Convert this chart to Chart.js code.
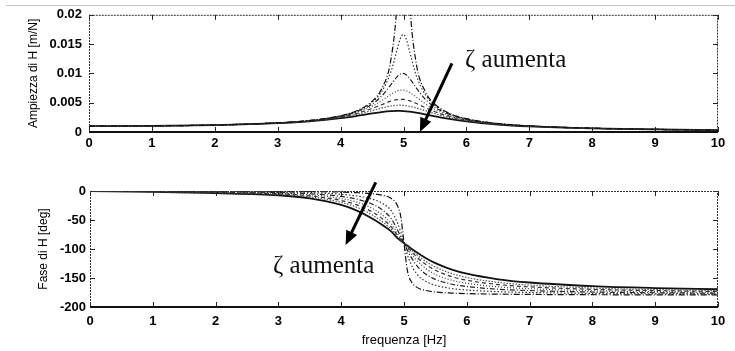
<!DOCTYPE html>
<html>
<head>
<meta charset="utf-8">
<script src="https://cdn.jsdelivr.net/npm/chart.js@4.4.1/dist/chart.umd.min.js"></script>
<style>
  body { margin: 0; background: #fff; }
  #wrap { position: relative; width: 735px; height: 351px; overflow: hidden; background: #fff; }
  canvas { position: absolute; left: 0; }
  .note { position: absolute; font-family: "Liberation Serif", serif; font-size: 25px; line-height: 25px; color: #111; white-space: nowrap; }
  #edge { position: absolute; left: 6px; right: 0; top: 5px; border-top: 1px solid #c4c4c4; }
</style>
</head>
<body>
<div id="wrap">
  <div id="edge"></div>
  <canvas id="ampChart" width="735" height="150" style="top:0"></canvas>
  <canvas id="phaseChart" width="735" height="201" style="top:150px"></canvas>
  <div class="note" style="left:465px; top:46px">ζ aumenta</div>
  <div class="note" style="left:273px; top:252px">ζ aumenta</div>
</div>
<script>
// frequency samples [Hz]
const freq = [0, 1, 2, 3, 3.5, 4, 4.25, 4.5, 4.65, 4.8, 4.9, 4.95, 5, 5.05, 5.1, 5.2, 5.35, 5.5, 5.75, 6, 6.5, 7, 8, 9, 10];
const zetaLabels = ["ζ = 0.01", "ζ = 0.03", "ζ = 0.05", "ζ = 0.07", "ζ = 0.09", "ζ = 0.11", "ζ = 0.14"];

// |H| [m/N]
const amp1 = [0.001, 0.001042, 0.00119, 0.001562, 0.00196, 0.002775, 0.003597, 0.00524, 0.007332, 0.01239, 0.02263, 0.0356, 0.05, 0.0351, 0.0221, 0.01187, 0.006826, 0.004736, 0.003093, 0.002269, 0.001448, 0.001041, 0.000641, 0.000446, 0.000333];
const amp2 = [0.001, 0.001042, 0.00119, 0.00156, 0.001954, 0.002753, 0.003545, 0.005063, 0.006842, 0.010279, 0.01411, 0.01596, 0.01667, 0.01566, 0.01364, 0.009734, 0.006309, 0.004543, 0.003032, 0.002243, 0.00144, 0.001038, 0.00064, 0.000446, 0.000333];
const amp3 = [0.001, 0.001041, 0.001189, 0.001556, 0.001943, 0.002712, 0.003446, 0.004757, 0.006097, 0.008068, 0.009461, 0.009903, 0.01, 0.009711, 0.009115, 0.007565, 0.005551, 0.004218, 0.002921, 0.002193, 0.001424, 0.001031, 0.000638, 0.000445, 0.000333];
const amp4 = [0.001, 0.001041, 0.001188, 0.001549, 0.001926, 0.002653, 0.003311, 0.004386, 0.00533, 0.006427, 0.007003, 0.007142, 0.007143, 0.007002, 0.006739, 0.005991, 0.004798, 0.00384, 0.002774, 0.002123, 0.001401, 0.001021, 0.000635, 0.000444, 0.000332];
const amp5 = [0.001, 0.00104, 0.001186, 0.001541, 0.001903, 0.002579, 0.003156, 0.004006, 0.004649, 0.00527, 0.005531, 0.005577, 0.005556, 0.005467, 0.005319, 0.004897, 0.004149, 0.003465, 0.00261, 0.00204, 0.001372, 0.001008, 0.00063, 0.000442, 0.000331];
const amp6 = [0.001, 0.00104, 0.001184, 0.00153, 0.001877, 0.002495, 0.002988, 0.003644, 0.004079, 0.004438, 0.004562, 0.004572, 0.004545, 0.004482, 0.004386, 0.004117, 0.003618, 0.003121, 0.00244, 0.001949, 0.001339, 0.000992, 0.000625, 0.00044, 0.00033];
const amp7 = [0.001, 0.00104, 0.00118, 0.001511, 0.00183, 0.002358, 0.002736, 0.003169, 0.003409, 0.003571, 0.003607, 0.003598, 0.003571, 0.003527, 0.003467, 0.003307, 0.003005, 0.002683, 0.002194, 0.001806, 0.001282, 0.000964, 0.000616, 0.000436, 0.000328];

// phase of H [deg]
const phase1 = [0, -0.12, -0.28, -0.54, -0.94, -1.91, -2.91, -4.87, -7.29, -13.07, -26.33, -44.86, -90, -134.86, -153.21, -165.7, -171.6, -174.02, -175.92, -176.88, -177.84, -178.33, -178.83, -179.08, -179.24];
const phase2 = [0, -0.36, -0.82, -1.61, -2.83, -5.69, -8.64, -14.28, -20.87, -34.49, -56.04, -71.48, -90, -108.35, -123.43, -142.59, -156.1, -162.55, -167.92, -170.71, -173.55, -175, -176.48, -177.24, -177.71];
const phase3 = [0, -0.6, -1.37, -2.68, -4.69, -9.4, -14.13, -22.82, -32.12, -48.22, -68, -78.64, -90, -101.25, -111.61, -128.12, -143.56, -152.35, -160.37, -164.74, -169.33, -171.7, -174.14, -175.41, -176.19];
const phase4 = [0, -0.84, -1.91, -3.74, -6.53, -12.96, -19.26, -30.2, -40.88, -56.75, -73.9, -81.83, -90, -98.09, -105.8, -119.27, -134.03, -143.75, -153.47, -159.1, -165.22, -168.46, -171.83, -173.58, -174.67];
const phase5 = [0, -1.08, -2.45, -4.79, -8.33, -16.35, -23.96, -36.41, -47.52, -62.32, -77.35, -83.63, -90, -96.31, -102.41, -113.55, -126.95, -136.68, -147.3, -153.85, -161.26, -165.29, -169.54, -171.77, -173.16];
const phase6 = [0, -1.31, -2.99, -5.83, -10.08, -19.54, -28.2, -41.56, -52.6, -66.15, -79.59, -84.78, -90, -95.17, -100.21, -109.63, -121.62, -130.95, -141.89, -149.04, -157.48, -162.21, -167.28, -169.97, -171.65];
const phase7 = [0, -1.67, -3.8, -7.36, -12.61, -23.92, -33.71, -47.68, -58.2, -70.05, -81.79, -85.89, -90, -94.07, -98.05, -105.65, -115.81, -124.29, -135.05, -142.63, -152.19, -157.79, -163.98, -167.32, -169.43];

const xTickLabels = ["0", "1", "2", "3", "4", "5", "6", "7", "8", "9", "10"];
const ampTickLabels = ["0", "0.005", "0.01", "0.015", "0.02"];
const phaseTickLabels = ["-200", "-150", "-100", "-50", "0"];

const ampSeries = [amp1, amp2, amp3, amp4, amp5, amp6, amp7];
const phaseSeries = [phase1, phase2, phase3, phase4, phase5, phase6, phase7];

// one line style per damping ratio
const lineStyles = [
    { color: "#111", dash: [6, 2, 1, 2], width: 1.2 },
    { color: "#333", dash: [1.5, 2], width: 1.2 },
    { color: "#222", dash: [5, 2, 1, 2], width: 1.2 },
    { color: "#444", dash: [1, 2], width: 1.3 },
    { color: "#333", dash: [4, 3], width: 1.2 },
    { color: "#555", dash: [1.5, 1.5], width: 1.2 },
    { color: "#111", dash: [], width: 1.8 }
];

function buildDatasets(series) {
    return series.map((vals, i) => ({
        label: zetaLabels[i],
        data: vals.map((v, k) => ({ x: freq[k], y: v })),
        borderColor: lineStyles[i].color,
        borderDash: lineStyles[i].dash,
        borderWidth: lineStyles[i].width,
        pointRadius: 0,
        cubicInterpolationMode: "monotone",
        fill: false
    }));
}

// box with inward ticks on all four sides
const framePlugin = {
    id: "frame",
    afterDatasetsDraw(chart) {
        const { ctx, chartArea: a, scales: { x, y } } = chart;
        ctx.save();
        ctx.strokeStyle = "#222";
        ctx.lineWidth = 1;
        ctx.beginPath();
        x.ticks.forEach(t => {
            const px = Math.round(x.getPixelForValue(t.value)) + 0.5;
            ctx.moveTo(px, a.bottom); ctx.lineTo(px, a.bottom - 5);
            ctx.moveTo(px, a.top); ctx.lineTo(px, a.top + 5);
        });
        y.ticks.forEach(t => {
            const py = Math.round(y.getPixelForValue(t.value)) + 0.5;
            ctx.moveTo(a.left, py); ctx.lineTo(a.left + 5, py);
            ctx.moveTo(a.right, py); ctx.lineTo(a.right - 5, py);
        });
        ctx.stroke();

        ctx.strokeStyle = "#333";
        ctx.setLineDash([2, 1]);
        ctx.beginPath();
        ctx.moveTo(a.left + 0.5, a.bottom);
        ctx.lineTo(a.left + 0.5, a.top + 0.5);
        ctx.lineTo(a.right - 0.5, a.top + 0.5);
        ctx.lineTo(a.right - 0.5, a.bottom);
        ctx.stroke();

        ctx.setLineDash([]);
        ctx.strokeStyle = "#111";
        ctx.lineWidth = 2;
        ctx.beginPath();
        ctx.moveTo(a.left, a.bottom);
        ctx.lineTo(a.right, a.bottom);
        ctx.stroke();
        ctx.restore();
    }
};

// "zeta increases" arrow, given in data coordinates
const arrowPlugin = {
    id: "arrow",
    afterDraw(chart, args, opts) {
        const { ctx, scales: { x, y } } = chart;
        const x0 = x.getPixelForValue(opts.from[0]), y0 = y.getPixelForValue(opts.from[1]);
        const x1 = x.getPixelForValue(opts.to[0]), y1 = y.getPixelForValue(opts.to[1]);
        const ang = Math.atan2(y1 - y0, x1 - x0);
        const headLen = 14, headW = 6;
        ctx.save();
        ctx.strokeStyle = "#000";
        ctx.fillStyle = "#000";
        ctx.lineWidth = 3;
        ctx.beginPath();
        ctx.moveTo(x0, y0);
        ctx.lineTo(x1 - Math.cos(ang) * headLen * 0.8, y1 - Math.sin(ang) * headLen * 0.8);
        ctx.stroke();
        ctx.beginPath();
        ctx.moveTo(x1, y1);
        ctx.lineTo(x1 - Math.cos(ang) * headLen - Math.sin(ang) * headW, y1 - Math.sin(ang) * headLen + Math.cos(ang) * headW);
        ctx.lineTo(x1 - Math.cos(ang) * headLen + Math.sin(ang) * headW, y1 - Math.sin(ang) * headLen - Math.cos(ang) * headW);
        ctx.closePath();
        ctx.fill();
        ctx.restore();
    }
};

const tickFont = { family: "'Liberation Sans', Arial, sans-serif", size: 13, weight: "bold" };
const titleFont = { family: "'Liberation Sans', Arial, sans-serif", size: 12 };

function xScale(labelPad, xHeight, title) {
    return {
        type: "linear", min: 0, max: 10,
        grid: { display: false, drawTicks: false },
        border: { display: false },
        ticks: { stepSize: 1, autoSkip: false, maxRotation: 0, padding: labelPad, color: "#000", font: tickFont,
                 callback: (v, i) => xTickLabels[i] },
        title: title ? { display: true, text: title, color: "#000", font: { ...titleFont, size: 13 }, padding: { top: 0, bottom: 3 } } : { display: false },
        afterFit: s => { s.height = xHeight; }
    };
}

function yScale(min, max, step, labels, title, labelPad, titlePad, yWidth) {
    return {
        type: "linear", min: min, max: max,
        grid: { display: false, drawTicks: false },
        border: { display: false },
        ticks: { stepSize: step, autoSkip: false, padding: labelPad, color: "#000", font: tickFont,
                 callback: (v, i) => labels[i] },
        title: { display: true, text: title, color: "#000", font: titleFont, padding: { top: titlePad, bottom: 0 } },
        afterFit: s => { s.width = yWidth; }
    };
}

new Chart(document.getElementById("ampChart"), {
    type: "line",
    data: { datasets: buildDatasets(ampSeries) },
    options: {
        responsive: false, animation: false, devicePixelRatio: 1,
        layout: { padding: { top: 14, right: 17, bottom: 0, left: 0 } },
        plugins: {
            legend: { display: false }, tooltip: { enabled: false },
            arrow: { from: [5.77, 0.0117], to: [5.26, 0.0] }
        },
        scales: {
            x: xScale(4, 18, null),
            y: yScale(0, 0.02, 0.005, ampTickLabels, "Ampiezza di H [m/N]", 7, 26, 89)
        }
    },
    plugins: [framePlugin, arrowPlugin]
});

new Chart(document.getElementById("phaseChart"), {
    type: "line",
    data: { datasets: buildDatasets(phaseSeries) },
    options: {
        responsive: false, animation: false, devicePixelRatio: 1,
        layout: { padding: { top: 41, right: 17, bottom: 0, left: 0 } },
        plugins: {
            legend: { display: false }, tooltip: { enabled: false },
            arrow: { from: [4.55, 15], to: [4.07, -93] }
        },
        scales: {
            x: xScale(7, 44, "frequenza [Hz]"),
            y: yScale(-200, 0, 50, phaseTickLabels, "Fase di H [deg]", 4, 36, 90)
        }
    },
    plugins: [framePlugin, arrowPlugin]
});
</script>
</body>
</html>
